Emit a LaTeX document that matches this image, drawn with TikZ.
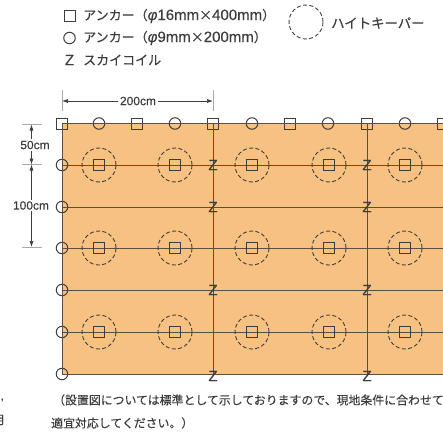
\documentclass[tikz,border=0pt]{standalone}
\usepackage{fontspec}
\setmainfont{Liberation Sans}
\newfontfamily\jp[FakeBold=0.3]{Noto Sans CJK JP}
\newfontfamily\jpn[FakeBold=0.2]{Noto Sans CJK JP}
\newfontfamily\lat[FakeBold=0.2]{Liberation Sans}
\usetikzlibrary{arrows.meta}
\definecolor{mat}{HTML}{F7C181}
\definecolor{ink}{HTML}{3D3D3D}
\definecolor{wire}{HTML}{5C4F40}
\definecolor{dimgray}{HTML}{A8A8A8}
\newcommand{\latnum}[1]{{\lat\fontsize{15}{14}\selectfont #1}}
\tikzset{
  sq/.style={draw=ink,line width=0.95pt,minimum size=11pt,inner sep=0pt,outer sep=0pt},
  rnd/.style={draw=ink,circle,line width=1pt,minimum size=11.5pt,inner sep=0pt,outer sep=0pt},
  hk/.style={draw=ink,circle,dash pattern=on 4pt off 2.4pt,line width=0.9pt,minimum size=34pt,inner sep=0pt},
  zed/.style={inner sep=0pt,font=\lat\fontsize{15}{15}\selectfont,text=ink},
  wireline/.style={draw=wire,line width=0.9pt},
  legend/.style={anchor=west,inner sep=0pt,text=ink,font=\jp\fontsize{13}{14}\selectfont},
  dimtext/.style={inner sep=1.5pt,text=ink,font=\lat\fontsize{12}{12}\selectfont},
  note/.style={anchor=west,inner sep=0pt,text=ink,font=\jpn\fontsize{11.9}{13}\selectfont},
  ext/.style={draw=dimgray,line width=1pt},
  dim/.style={draw=ink,line width=0.6pt,-{Latex[length=6pt,width=4pt]}}
}
\begin{document}
\begin{tikzpicture}[x=1pt,y=-1pt]
\useasboundingbox (0,0) rectangle (443,433);
\clip (0,0) rectangle (443,433);
\fill[mat] (62,123.5) rectangle (443,374);
% free ends on the right edge
\foreach \y [count=\i] in {123.5,165,207,248,290,332,374}
  \coordinate (r\i) at (443,\y);
\coordinate (b1) at (213,374);
\coordinate (b2) at (367,374);
% top row markers
\node[sq] (t1) at (62,123.5) {};
\node[rnd] (t2) at (99,123.5) {};
\node[sq] (t3) at (137,123.5) {};
\node[rnd] (t4) at (175,123.5) {};
\node[sq] (t5) at (213,123.5) {};
\node[rnd] (t6) at (252,123.5) {};
\node[sq] (t7) at (290,123.5) {};
\node[rnd] (t8) at (328,123.5) {};
\node[sq] (t9) at (367,123.5) {};
\node[rnd] (t10) at (405,123.5) {};
\node[sq] (t11) at (443,123.5) {};
% left column markers
\node[rnd] (l2) at (62,165) {};
\node[rnd] (l3) at (62,207) {};
\node[rnd] (l4) at (62,248) {};
\node[rnd] (l5) at (62,290) {};
\node[rnd] (l6) at (62,332) {};
\node[rnd] (l7) at (62,374) {};
% wires
\draw[wireline] (t1.center) -- (r1);
\foreach \i in {2,...,7}
  \draw[wireline] (l\i.center) -- (r\i);
\draw[wireline] (t1.center) -- (l7.center);
\draw[wireline] (t5.center) -- (b1);
\draw[wireline] (t9.center) -- (b2);
% height keepers
\foreach \y [count=\r] in {165,248,332}
  \foreach \x [count=\c] in {99,175,252,329,405} {
    \node[sq] (a\r\c) at (\x,\y) {};
    \node[hk] (h\r\c) at (\x,\y) {};
  }
% sky coils
\foreach \y [count=\r] in {165,207,290,376} {
  \node[zed] (za\r) at (213,\y) {Z};
  \node[zed] (zb\r) at (367,\y) {Z};
}
% legend
\node[sq] (ls) at (69.5,16) {};
\node[rnd] (lc) at (69.5,38) {};
\node[zed] (lz) at (69.5,60) {Z};
\node[legend] (t-a) at (83,16) {アンカー（\latnum{\textit{φ}16mm}×\latnum{400mm}）};
\node[legend] (t-b) at (83,38) {アンカー（\latnum{\textit{φ}9mm}×\latnum{200mm}）};
\node[legend] (t-c) at (83,60) {スカイコイル};
\node[hk] (lh) at (306,22) {};
\node[legend,font=\jp\fontsize{13.4}{14}\selectfont] (t-d) at (331,23) {ハイトキーパー};
% 200cm dimension
\coordinate (e1a) at (62,90); \coordinate (e1b) at (62,111);
\coordinate (e2a) at (213,90); \coordinate (e2b) at (213,111);
\draw[ext] (e1a) -- (e1b);
\draw[ext] (e2a) -- (e2b);
\node[dimtext] (d200) at (138,101) {200cm};
\draw[dim] (d200) -- (e1a |- d200);
\draw[dim] (d200) -- (e2a |- d200);
% vertical dimensions
\coordinate (f1a) at (22,124.5); \coordinate (f1b) at (42,124.5);
\coordinate (f2a) at (22,164.5); \coordinate (f2b) at (42,164.5);
\coordinate (f3a) at (22,247); \coordinate (f3b) at (42,247);
\draw[ext] (f1a) -- (f1b);
\draw[ext] (f2a) -- (f2b);
\draw[ext] (f3a) -- (f3b);
\node[dimtext] (d50) at (35,145) {50cm};
\node[dimtext] (d100) at (31,205.5) {100cm};
\coordinate (v1) at (31.5,124.5);
\coordinate (v2) at (31.5,164.5);
\coordinate (v3) at (31.5,247);
\draw[dim] (v1 |- d50.north) -- (v1);
\draw[dim] (v2 |- d50.south) -- (v2);
\draw[dim] (v2 |- d100.north) -- (v2);
\draw[dim] (v3 |- d100.south) -- (v3);
% notes
\node[note] (n1) at (53,400) {（設置図については標準として示しておりますので、現地条件に合わせて};
\node[note] (n2) at (51,423) {適宜対応してください。）};
\node[anchor=west,inner sep=0pt,text=ink,font=\lat\fontsize{11}{13}\selectfont] (n0) at (0.5,400) {,};
\node[anchor=east,inner sep=0pt,text=ink,font=\jpn\fontsize{11.9}{13}\selectfont] (n3) at (5.5,420) {月};
\end{tikzpicture}
\end{document}
